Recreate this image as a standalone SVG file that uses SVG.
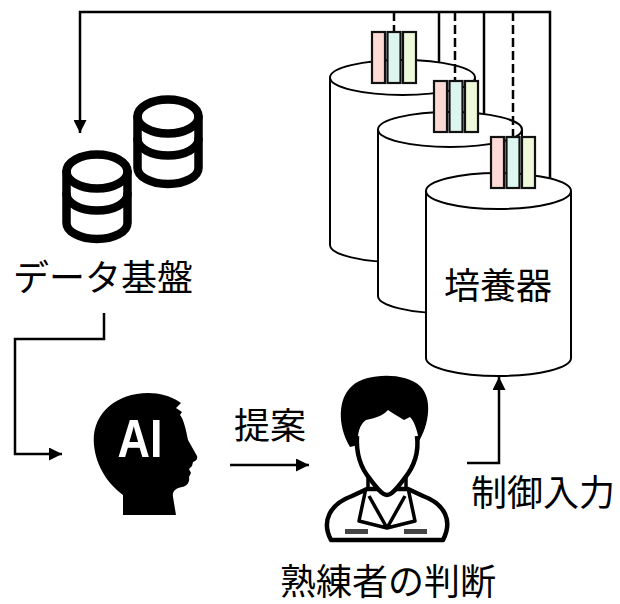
<svg xmlns="http://www.w3.org/2000/svg" xmlns:xlink="http://www.w3.org/1999/xlink" width="620" height="604" viewBox="0 0 620 604">
  <style>
    .label { font-family: "Noto Sans CJK JP", "Noto Sans", sans-serif; font-size: 36px; fill: #000; text-anchor: middle; }
    .wire { fill: none; stroke: #000; stroke-width: 2.5; }
    .dash { fill: none; stroke: #000; stroke-width: 2.5; stroke-dasharray: 9 4; }
    .tank { fill: #fff; stroke: #000; stroke-width: 2; }
    .db { fill: none; stroke: #000; stroke-width: 8.5; stroke-linecap: round; stroke-linejoin: round; }
    .bar { stroke: #111; stroke-width: 2.2; }
    .pink { fill: #fddad5; }
    .cyan { fill: #dcf5ef; }
    .lime { fill: #eef9dc; }
    .ai { font-family: "Liberation Sans", Arial, sans-serif; font-weight: bold; font-size: 54px; fill: #fff; text-anchor: middle; }
  </style>
  <defs>
    <marker id="arrow" viewBox="0 0 10 10" refX="10" refY="5" markerWidth="15" markerHeight="13" markerUnits="userSpaceOnUse" orient="auto">
      <path d="M0,0 L10,5 L0,10 Z" fill="#000"/>
    </marker>
    <!-- database stack glyph, 70 x 94 -->
    <g id="dbGlyph">
      <ellipse class="db" cx="35" cy="21.5" rx="30.5" ry="17"/>
      <path class="db" d="M4.5,21.5 V73 A30.5,16 0 0 0 65.5,73 V21.5"/>
      <path class="db" d="M4.5,44 A30.5,16.5 0 0 0 65.5,44"/>
    </g>
    <!-- three sensor bars -->
    <g id="rack">
      <rect class="bar pink" x="0" y="0" width="13" height="51"/>
      <rect class="bar cyan" x="15.5" y="0" width="13" height="51"/>
      <rect class="bar lime" x="31" y="0" width="13" height="51"/>
    </g>
  </defs>

  <rect width="620" height="604" fill="#fff"/>

  <!-- incubators, back to front -->
  <g id="incubator-1">
    <path class="tank" d="M330,77.5 V245 A72.5,17.5 0 0 0 475,245 V77.5"/>
    <ellipse class="tank" cx="402.5" cy="77.5" rx="72.5" ry="17.5"/>
    <use xlink:href="#rack" x="372" y="32"/>
  </g>
  <g id="incubator-2">
    <path class="tank" d="M378,129.5 V296 A72,17.5 0 0 0 522,296 V129.5"/>
    <ellipse class="tank" cx="450" cy="129.5" rx="72" ry="17.5"/>
    <use xlink:href="#rack" x="434" y="81"/>
  </g>
  <g id="incubator-3">
    <path class="tank" d="M426,191 V358 A72.5,18 0 0 0 571,358 V191"/>
    <ellipse class="tank" cx="498.5" cy="191" rx="72.5" ry="18"/>
    <use xlink:href="#rack" x="491" y="137"/>
    <text class="label" x="498" y="299">培養器</text>
  </g>

  <!-- data platform -->
  <g id="data-platform">
    <use xlink:href="#dbGlyph" x="133" y="95"/>
    <use xlink:href="#dbGlyph" x="62" y="150"/>
    <text class="label" x="103" y="291">データ基盤</text>
  </g>

  <!-- AI head -->
  <g id="ai">
    <path fill="#000" d="M123,515 L123,495 C108,484 96,466 94,445 C91,415 115,393 148,393 C160,393 170,396 178,401 L181,403 L176,408 L182,412 L180,415 C184,420 186,430 188,440 L197,456 C198,459 196,461 193,462 L192,466 L189,469 L191,473 L189,477 C190,482 187,486 182,487 C176,488 172,491 173,497 L176,515 Z"/>
    <text class="ai" x="140" y="457" textLength="45" lengthAdjust="spacingAndGlyphs">AI</text>
  </g>

  <!-- expert -->
  <g id="expert">
    <path fill="#fff" stroke="#000" stroke-width="4.5" stroke-linejoin="round" d="M331,540 C321,521 330,504 352,496 L367,489 L408,489 L423,496 C445,504 453,521 443,540 Z"/>
    <path fill="none" stroke="#000" stroke-width="3.5" stroke-linejoin="round" d="M368,476 V490 M406,476 V490 M366,488 L359,521 L387,528 L415,521 L408,488 M369,496 L387,528 L405,496"/>
    <path fill="#fff" stroke="#000" stroke-width="4.5" stroke-linejoin="round" d="M357,436 C356,452 360,467 370,479 C376,487 382,495 387,495 C392,495 398,487 404,479 C414,467 419,452 417,436"/>
    <path fill="#000" d="M350,447 C337,425 338,398 352,386 C366,373 405,372 420,386 C433,398 429,425 419,441 C417,429 414,421 410,417 L404,420 C398,416 392,413 388,410 C383,416 375,418 366,420 C360,424 357,433 358,445 Z"/>
    <rect x="345" y="529" width="23" height="5" fill="#444"/>
    <rect x="404" y="529" width="23" height="5" fill="#444"/>
    <text class="label" x="388" y="595">熟練者の判断</text>
  </g>

  <!-- connectors -->
  <g id="connectors">
    <path class="wire" d="M550,178 V12 H80 V133" marker-end="url(#arrow)"/>
    <path class="wire" d="M439,12 V62"/>
    <path class="wire" d="M484,12 V114"/>
    <path class="dash" d="M394,12 V31"/>
    <path class="dash" d="M455,12 V80"/>
    <path class="dash" d="M513,12 V136"/>
    <path class="wire" d="M104,313 V339 H15 V454 H62" marker-end="url(#arrow)"/>
    <path class="wire" d="M230,465 H309" marker-end="url(#arrow)"/>
    <path class="wire" d="M467,463 H499 V377" marker-end="url(#arrow)"/>
    <text class="label" x="270" y="439">提案</text>
    <text class="label" x="543" y="506">制御入力</text>
  </g>
</svg>
